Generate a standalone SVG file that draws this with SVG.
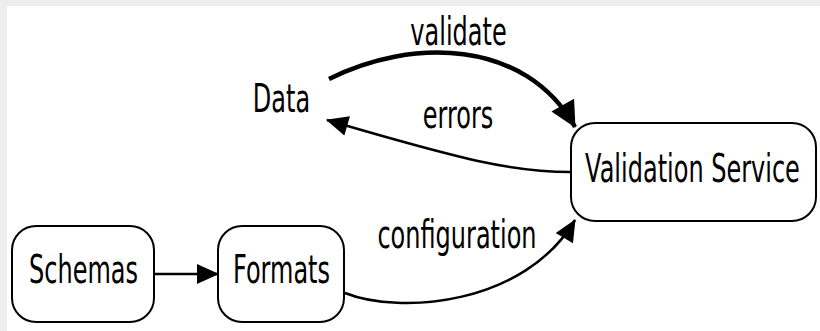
<svg xmlns="http://www.w3.org/2000/svg" width="820" height="331" viewBox="0 0 820 331">
<style>
.node rect{fill:#ffffff;stroke:#000000;stroke-width:2}
text{font-family:"DejaVu Sans","Liberation Sans",sans-serif;font-size:24px;fill:#000000;text-anchor:middle}
.edge{fill:none;stroke:#000000;stroke-width:2.5}
.thick{stroke-width:4.5}
</style>
<defs>
<marker id="ah" markerUnits="userSpaceOnUse" markerWidth="22" markerHeight="20" refX="21" refY="10" orient="auto" overflow="visible">
<path d="M0,0 L22,10 L0,20 z" fill="#000000"/>
</marker>
<marker id="ahb" markerUnits="userSpaceOnUse" markerWidth="26" markerHeight="26" refX="25" refY="13" orient="auto" overflow="visible">
<path d="M0,0 L26,13 L0,26 z" fill="#000000"/>
</marker>
</defs>
<rect x="0" y="0" width="820" height="331" fill="#eeeeee"/>
<rect x="7" y="6" width="813" height="325" fill="#ffffff"/>
<g id="connectors">
<path class="edge thick" d="M329,79 C410,38 525,38 575,127" marker-end="url(#ahb)"/>
<path class="edge" d="M571,172 C515,172 470,162 327,120" marker-end="url(#ah)"/>
<path class="edge" d="M154,274 L218,274" marker-end="url(#ah)"/>
<path class="edge" d="M345,293 C400,315 525,305 575,220" marker-end="url(#ah)"/>
<text transform="translate(458.5,45) scale(1,1.62)">validate</text>
<text transform="translate(458,128) scale(1,1.62)">errors</text>
<text transform="translate(457,248) scale(1,1.62)">configuration</text>
</g>
<g id="data" class="node">
<text transform="translate(281.5,112) scale(1,1.62)">Data</text>
</g>
<g id="validation-service" class="node">
<rect x="571" y="123" width="245" height="98" rx="24" ry="24"/>
<text transform="translate(692.5,182) scale(1,1.62)">Validation Service</text>
</g>
<g id="schemas" class="node">
<rect x="12" y="226" width="142" height="96" rx="24" ry="24"/>
<text transform="translate(83.5,283) scale(1,1.62)">Schemas</text>
</g>
<g id="formats" class="node">
<rect x="218" y="226" width="126" height="96" rx="24" ry="24"/>
<text transform="translate(281.5,283) scale(1,1.62)">Formats</text>
</g>
</svg>
